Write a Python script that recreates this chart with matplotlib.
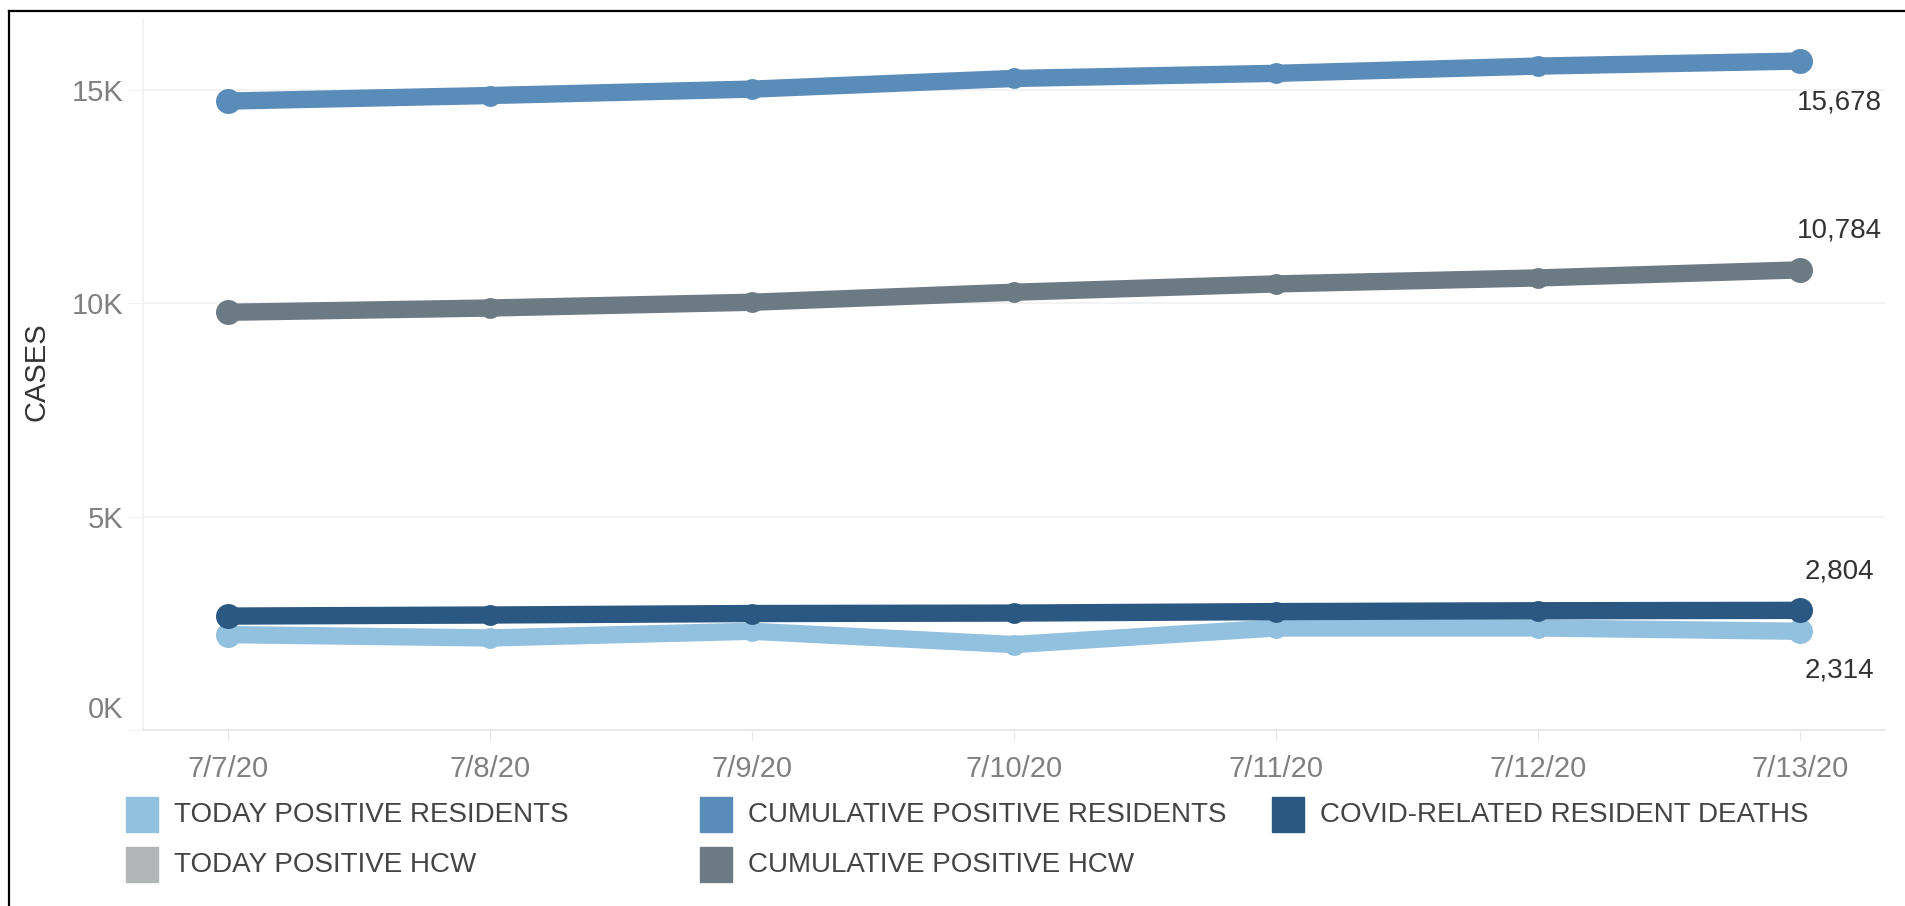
import matplotlib
matplotlib.use('Agg')
import matplotlib.pyplot as plt
from matplotlib.patches import Rectangle
from matplotlib.lines import Line2D
from matplotlib.ticker import FuncFormatter
import matplotlib.transforms as mtransforms

dates = ['7/7/20', '7/8/20', '7/9/20', '7/10/20', '7/11/20', '7/12/20', '7/13/20']

today_pos_residents = [2236, 2157, 2314, 2002, 2391, 2391, 2314]
cum_pos_residents = [14740, 14870, 15020, 15270, 15390, 15560, 15678]
resident_deaths = [2670, 2695, 2730, 2740, 2775, 2795, 2804]
cum_pos_hcw = [9790, 9890, 10025, 10260, 10455, 10595, 10784]

legend_labels = ['TODAY POSITIVE RESIDENTS', 'CUMULATIVE POSITIVE RESIDENTS',
                 'COVID-RELATED RESIDENT DEATHS', 'TODAY POSITIVE HCW',
                 'CUMULATIVE POSITIVE HCW']
legend_colors = ['#92c0df', '#5a8cb9', '#2b5783', '#b3b6b7', '#6c7a83']

plt.rcParams['font.family'] = ['Liberation Sans Narrow', 'Liberation Sans', 'DejaVu Sans']

W, H = 1905, 906
fig = plt.figure(figsize=(W / 100, H / 100), dpi=100)
ax = fig.add_axes([143 / W, 1 - 730 / H, (1885 - 143) / W, (730 - 20) / H])

x = list(range(len(dates)))

# (values, color, label offset in points)
series = [
    (cum_pos_hcw, legend_colors[4], 28),
    (cum_pos_residents, legend_colors[1], -30),
    (today_pos_residents, legend_colors[0], -28),
    (resident_deaths, legend_colors[2], 28),
]

for vals, col, dy in series:
    ax.plot(x, vals, color=col, lw=12.5, solid_capstyle='round', zorder=3)
    ax.plot(x[1:-1], vals[1:-1], 'o', color=col, ms=15, mec='none', zorder=3)
    ax.plot([x[0], x[-1]], [vals[0], vals[-1]], 'o', color=col, ms=18, mec='none', zorder=3)
    ax.annotate(f'{vals[-1]:,}', (x[-1], vals[-1]), xytext=(28, dy),
                textcoords='offset points', ha='center', va='center',
                fontsize=20, color='#333333', annotation_clip=False)

ax.set_xlim(-0.324, 6.324)
ax.set_ylim(0, 16640)
ax.set_xticks(x)
ax.set_xticklabels(dates)
ax.set_yticks([0, 5000, 10000, 15000])
ax.yaxis.set_major_formatter(FuncFormatter(lambda v, p: f'{int(v / 1000)}K'))

ax.grid(axis='y', color='#f0f0f0', lw=1.2, zorder=0)
for s in ['top', 'right']:
    ax.spines[s].set_visible(False)
ax.spines['left'].set_color('#f0f0f0')
ax.spines['bottom'].set_color('#e6e6e6')
ax.spines['left'].set_linewidth(1.2)
ax.spines['bottom'].set_linewidth(1.2)

ax.tick_params(axis='y', length=11, color='#f0f0f0', pad=3, labelsize=21, labelcolor='#808080')
ax.tick_params(axis='x', length=8, color='#e6e6e6', pad=10, labelsize=21, labelcolor='#808080')

# Tableau keeps the 0K label inside the pane
lab0 = ax.get_yticklabels()[0]
lab0.set_transform(lab0.get_transform() + mtransforms.ScaledTranslation(0, 23 / 100, fig.dpi_scale_trans))

fig.text(37 / W, 1 - 372 / H, 'CASES', rotation=90, ha='center', va='center',
         fontsize=21, color='#333333')

# legend drawn by hand, Tableau style
col_x = [126, 700, 1272, 126, 700]
row_y = [815, 815, 815, 865, 865]
for lab, col, lx, ly in zip(legend_labels, legend_colors, col_x, row_y):
    fig.patches.append(Rectangle((lx / W, 1 - (ly + 17) / H), 32 / W, 35 / H,
                                 transform=fig.transFigure, color=col))
    fig.text((lx + 48) / W, 1 - ly / H, lab, fontsize=20, color='#444444', va='center')

# outer frame
fig.lines.append(Line2D([9 / W, 9 / W], [0, 1 - 11 / H], transform=fig.transFigure, color='black', lw=1.6))
fig.lines.append(Line2D([9 / W, 1], [1 - 11 / H, 1 - 11 / H], transform=fig.transFigure, color='black', lw=1.6))

fig.savefig('out.png', dpi=100)
